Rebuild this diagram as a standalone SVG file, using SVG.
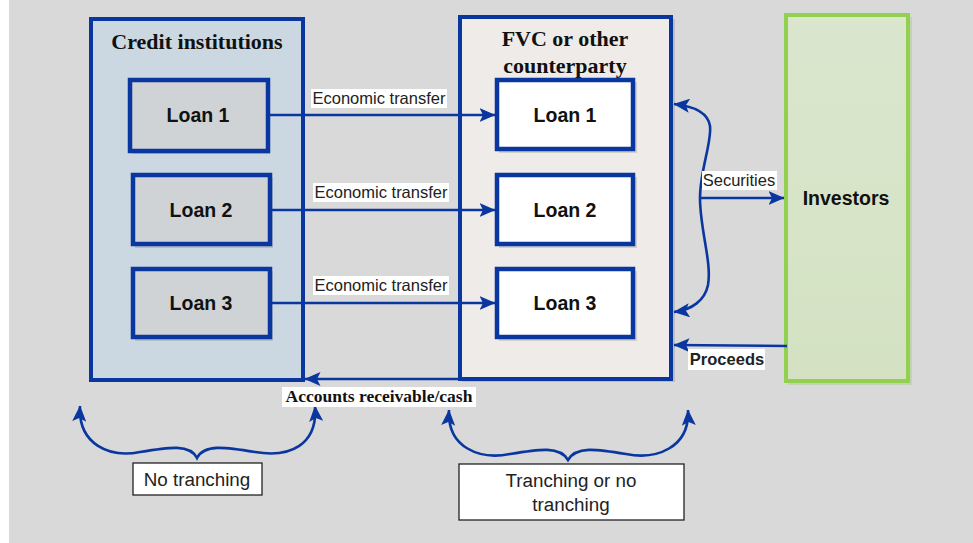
<svg xmlns="http://www.w3.org/2000/svg" width="973" height="543" viewBox="0 0 973 543">
<style>
.bg{fill:#d9d9d9}
.big{stroke:#0a36a0;stroke-width:4}
.loan{stroke:#0a36a0;stroke-width:4.5}
.shadow{fill:#000;opacity:0.12}
.title{font-family:"Liberation Serif",serif;font-weight:bold;font-size:22px;fill:#111;text-anchor:middle}
.ltxt{font-family:"Liberation Sans",sans-serif;font-weight:bold;font-size:19.5px;fill:#111;text-anchor:middle}
.lab{font-family:"Liberation Sans",sans-serif;font-size:16.5px;fill:#222}
.labbg{fill:#fff}
.conn{fill:none;stroke:#0a36a0;stroke-width:2.6}
.note{font-family:"Liberation Sans",sans-serif;font-size:18.8px;fill:#222;text-anchor:middle}
.notebox{fill:#fff;stroke:#222;stroke-width:1.3}
</style>
<defs>
<marker id="ah" viewBox="0 0 16 14" refX="15.5" refY="7" markerWidth="16" markerHeight="14" markerUnits="userSpaceOnUse" orient="auto-start-reverse">
<path d="M0,0 L16,7 L0,14 L3.5,7 z" fill="#0a36a0"/>
</marker>
<linearGradient id="gGreen" x1="0" y1="0" x2="0" y2="1">
<stop offset="0" stop-color="#dae6cd"/>
<stop offset="1" stop-color="#d4e2c3"/>
</linearGradient>
</defs>
<rect x="9" y="0" width="964" height="543" class="bg"/>

<g id="credit-institutions">
<rect x="93" y="21" width="212" height="361" class="shadow"/>
<rect x="91" y="19" width="212" height="361" fill="#cbd8e2" class="big"/>
<text x="197" y="49" class="title">Credit institutions</text>
</g>
<g id="fvc">
<rect x="462" y="19" width="213" height="363" class="shadow"/>
<rect x="460" y="17" width="211" height="362" fill="#efebe8" class="big"/>
<text x="565" y="46" class="title">FVC or other</text>
<text x="565" y="73" class="title">counterparty</text>
</g>
<g id="investors">
<rect x="788" y="17" width="124" height="368" fill="#b5cf9c" opacity="0.6"/>
<rect x="786" y="15" width="122" height="366" fill="url(#gGreen)" stroke="#92d050" stroke-width="4"/>
<text x="846" y="205" class="ltxt" font-size="20.5px">Investors</text>
</g>

<g id="loan1-ci">
<rect x="132" y="82" width="138" height="72" class="shadow"/>
<rect x="130" y="80" width="138" height="71" fill="#cfd3d6" class="loan"/>
<text x="198" y="122" class="ltxt">Loan 1</text>
</g>
<g id="loan2-ci">
<rect x="135" y="177" width="138" height="71" class="shadow"/>
<rect x="133" y="175" width="137" height="69" fill="#cfd3d6" class="loan"/>
<text x="201" y="217" class="ltxt">Loan 2</text>
</g>
<g id="loan3-ci">
<rect x="135" y="271" width="138" height="70" class="shadow"/>
<rect x="133" y="269" width="137" height="68" fill="#cfd3d6" class="loan"/>
<text x="201" y="310" class="ltxt">Loan 3</text>
</g>
<g id="loan1-fvc">
<rect x="499" y="82" width="138" height="71" class="shadow"/>
<rect x="497" y="80" width="136" height="69" fill="#ffffff" class="loan"/>
<text x="565" y="122" class="ltxt">Loan 1</text>
</g>
<g id="loan2-fvc">
<rect x="499" y="177" width="138" height="71" class="shadow"/>
<rect x="497" y="175" width="136" height="69" fill="#ffffff" class="loan"/>
<text x="565" y="217" class="ltxt">Loan 2</text>
</g>
<g id="loan3-fvc">
<rect x="499" y="271" width="138" height="70" class="shadow"/>
<rect x="497" y="269" width="136" height="68" fill="#ffffff" class="loan"/>
<text x="565" y="310" class="ltxt">Loan 3</text>
</g>

<g id="connectors">
<path d="M270,115 L495,115" class="conn" marker-end="url(#ah)"/>
<path d="M272,210 L495,210" class="conn" marker-end="url(#ah)"/>
<path d="M272,303 L495,303" class="conn" marker-end="url(#ah)"/>
<path d="M700,198 C700,170 712,142 710,126 C708,112 692,106 674,104" class="conn" marker-end="url(#ah)"/>
<path d="M700,198 C700,230 712,262 708,285 C705,300 692,310 674,312" class="conn" marker-end="url(#ah)"/>
<path d="M700,198 L784,198" class="conn" marker-end="url(#ah)"/>
<path d="M787,346 L674,345" class="conn" marker-end="url(#ah)"/>
<path d="M460,379 L305,379" class="conn" marker-end="url(#ah)"/>
<path d="M80,406 C78,445 110,458 140,452 C170,447 190,444 197,458 C204,444 225,447 255,452 C290,458 318,445 315,406" class="conn" marker-start="url(#ah)" marker-end="url(#ah)"/>
<path d="M449,410 C447,448 480,460 510,454 C540,449 560,446 568,460 C576,446 596,449 626,454 C656,460 690,448 688,410" class="conn" marker-start="url(#ah)" marker-end="url(#ah)"/>
</g>

<g id="labels">
<rect x="311" y="89" width="136" height="19" class="labbg"/>
<text x="379" y="104" class="lab" text-anchor="middle">Economic transfer</text>
<rect x="313" y="183" width="136" height="19" class="labbg"/>
<text x="381" y="198" class="lab" text-anchor="middle">Economic transfer</text>
<rect x="313" y="276" width="136" height="19" class="labbg"/>
<text x="381" y="291" class="lab" text-anchor="middle">Economic transfer</text>
<rect x="702" y="171" width="75" height="19" class="labbg"/>
<text x="739" y="186" class="lab" text-anchor="middle">Securities</text>
<rect x="688" y="349" width="77" height="21" class="labbg"/>
<text x="727" y="365" class="lab" text-anchor="middle" font-weight="bold" font-size="16px">Proceeds</text>
<rect x="282" y="387" width="194" height="20" class="labbg"/>
<text x="379" y="402" text-anchor="middle" font-family="Liberation Serif, serif" font-weight="bold" font-size="17.5px" fill="#111">Accounts receivable/cash</text>
</g>

<g id="no-tranching">
<rect x="133" y="463" width="129" height="32" class="notebox"/>
<text x="197" y="486" class="note">No tranching</text>
</g>
<g id="tranching-or-no">
<rect x="459" y="464" width="225" height="56" class="notebox"/>
<text x="571" y="487" class="note">Tranching or no</text>
<text x="571" y="511" class="note">tranching</text>
</g>
</svg>
